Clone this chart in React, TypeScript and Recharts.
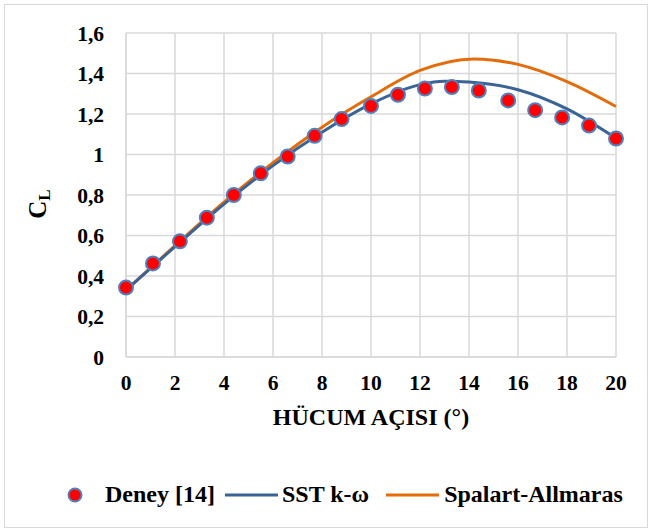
import {
  ComposedChart,
  Line,
  Scatter,
  XAxis,
  YAxis,
  CartesianGrid,
  Legend,
} from "recharts";

// Deney [14] measured points
const deneyAoa = [0, 1.1, 2.2, 3.3, 4.4, 5.5, 6.6, 7.7, 8.8, 10, 11.1, 12.2, 13.3, 14.4, 15.6, 16.7, 17.8, 18.9, 20];
const deneyCl = [0.343, 0.462, 0.571, 0.688, 0.8, 0.907, 0.99, 1.092, 1.175, 1.24, 1.295, 1.326, 1.333, 1.316, 1.267, 1.219, 1.183, 1.143, 1.079];

// CFD curves
const cfdAoa = [0, 2, 4, 6, 8, 10, 12, 13, 14, 16, 18, 20];
const sstCl = [0.33, 0.545, 0.755, 0.945, 1.11, 1.25, 1.345, 1.362, 1.358, 1.32, 1.225, 1.08];
const saAoa = [0, 2, 4, 6, 8, 10, 12, 14.2, 16, 18, 20];
const saCl = [0.33, 0.55, 0.765, 0.96, 1.135, 1.285, 1.415, 1.472, 1.445, 1.36, 1.237];

const xTicks = [0, 2, 4, 6, 8, 10, 12, 14, 16, 18, 20];
const yTicks = [0, 0.2, 0.4, 0.6, 0.8, 1, 1.2, 1.4, 1.6];

const deney = deneyAoa.map((x, i) => ({ x, y: deneyCl[i] }));
const sst = cfdAoa.map((x, i) => ({ x, y: sstCl[i] }));
const sa = saAoa.map((x, i) => ({ x, y: saCl[i] }));

const FONT = "Liberation Serif";
const GRID = "#d9d9d9";
const BLUE = "#3b6396";
const ORANGE = "#e46c0a";

const tickStyle = { fontSize: 21.5, fontWeight: 700, fill: "#000", fontFamily: FONT };

function YLabel(props: any) {
  const { viewBox } = props;
  const cy = viewBox.y + viewBox.height / 2 + 9;
  const cx = 40;
  return (
    <text
      x={cx}
      y={cy}
      transform={`rotate(-90 ${cx} ${cy})`}
      textAnchor="middle"
      dominantBaseline="middle"
      fontFamily={FONT}
      fontWeight={700}
      fontSize={25}
      fill="#000"
    >
      C<tspan fontSize={17} dy={6}>L</tspan>
    </text>
  );
}

function LegendContent() {
  const item = { display: "flex", alignItems: "center" } as const;
  const label = { fontFamily: FONT, fontWeight: 700, fontSize: 24, color: "#000", whiteSpace: "nowrap" } as const;
  return (
    <div style={{ display: "flex", alignItems: "center", paddingLeft: 67 }}>
      <div style={item}>
        <svg width={16} height={24}>
          <circle cx={8} cy={12} r={6.5} fill="#ff0000" stroke="#4f81bd" strokeWidth={2} />
        </svg>
        <span style={{ ...label, marginLeft: 22 }}>Deney [14]</span>
      </div>
      <div style={{ ...item, marginLeft: 10 }}>
        <svg width={53} height={24}>
          <line x1={0} y1={12} x2={53} y2={12} stroke={BLUE} strokeWidth={3} />
        </svg>
        <span style={{ ...label, marginLeft: 4 }}>SST k-ω</span>
      </div>
      <div style={{ ...item, marginLeft: 17 }}>
        <svg width={53} height={24}>
          <line x1={0} y1={12} x2={53} y2={12} stroke={ORANGE} strokeWidth={3} />
        </svg>
        <span style={{ ...label, marginLeft: 5 }}>Spalart-Allmaras</span>
      </div>
    </div>
  );
}

export default function App() {
  return (
    <div style={{ position: "absolute", left: 0, top: 0, width: 651, height: 532, background: "#fff" }}>
      <div
        style={{
          position: "absolute",
          left: 4,
          top: 4,
          width: 642,
          height: 522,
          border: `1.5px solid ${GRID}`,
        }}
      />
      <ComposedChart
        width={651}
        height={532}
        margin={{ top: 33, right: 35, left: 0, bottom: 24 }}
        style={{ position: "absolute", left: 0, top: 0 }}
      >
        <CartesianGrid stroke={GRID} strokeWidth={1.5} />
        <XAxis
          type="number"
          dataKey="x"
          domain={[0, 20]}
          ticks={xTicks}
          interval={0}
          height={124}
          tick={tickStyle}
          tickLine={false}
          tickSize={0}
          tickMargin={18}
          axisLine={{ stroke: GRID, strokeWidth: 1.5 }}
          label={{
            value: "HÜCUM AÇISI (°)",
            position: "insideTop",
            offset: 51,
            style: { fontSize: 24, fontWeight: 700, fill: "#000", fontFamily: FONT },
          }}
        />
        <YAxis
          type="number"
          domain={[0, 1.6]}
          ticks={yTicks}
          interval={0}
          width={126}
          tick={tickStyle}
          tickLine={false}
          tickSize={0}
          tickMargin={22}
          axisLine={{ stroke: GRID, strokeWidth: 1.5 }}
          tickFormatter={(v) => String(v).replace(".", ",")}
          label={<YLabel />}
        />
        <Legend verticalAlign="bottom" content={<LegendContent />} />
        <Line
          data={sa}
          dataKey="y"
          type="monotone"
          stroke={ORANGE}
          strokeWidth={3}
          dot={false}
          isAnimationActive={false}
        />
        <Line
          data={sst}
          dataKey="y"
          type="monotone"
          stroke={BLUE}
          strokeWidth={3}
          dot={false}
          isAnimationActive={false}
        />
        <Scatter
          data={deney}
          dataKey="y"
          fill="#ff0000"
          stroke="#4f81bd"
          strokeWidth={2}
          shape={(p: any) => (
            <circle cx={p.cx} cy={p.cy} r={7} fill="#ff0000" stroke="#4f81bd" strokeWidth={2} />
          )}
          isAnimationActive={false}
        />
      </ComposedChart>
    </div>
  );
}
